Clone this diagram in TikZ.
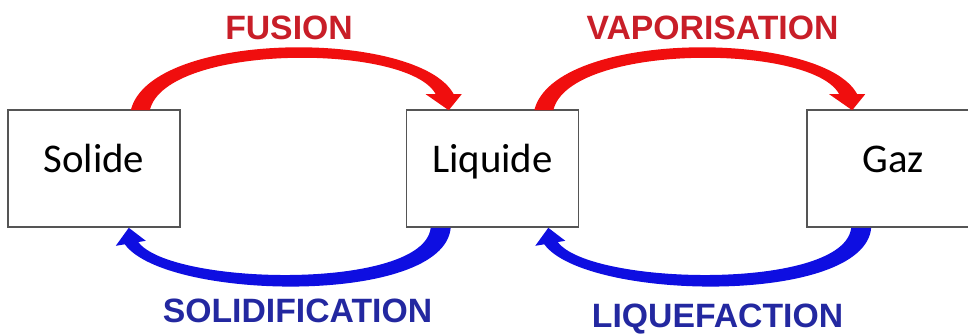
\documentclass[tikz,border=0pt]{standalone}
\usepackage{fontspec}
\setmainfont{Carlito}
\newfontfamily\phasefont{Liberation Sans}
\usetikzlibrary{positioning,calc}
\definecolor{meltred}{RGB}{240,14,14}
\definecolor{meltredtext}{RGB}{200,30,40}
\definecolor{coolblue}{RGB}{14,14,225}
\definecolor{coolbluetext}{RGB}{35,40,160}
\definecolor{boxgrey}{RGB}{85,85,85}
\tikzset{
  phase/.style={draw=boxgrey, line width=1.1pt, fill=white,
                minimum width=4.3cm, minimum height=2.925cm, inner sep=0pt,
                font=\fontsize{29}{34}\selectfont, text height=20pt, text depth=14pt},
  change/.style={font=\phasefont\bfseries\fontsize{24}{28}\selectfont,
                 inner sep=0pt, text height=17.4pt, text depth=0pt},
}
% tapered curved arrow over the boxes: #1 start, #2 tip, #3 colour
\newcommand{\hotarc}[3]{%
  \fill[#3] ($(#1)+(-10,1)$) .. controls ($(#1)+(10,-80)$) and ($(#2)+(-30,-80)$) .. ($(#2)+(5,-15)$)
    -- ($(#2)+(13,-15)$) -- ($(#2)+(0,1)$) -- ($(#2)+(-23,-15)$) -- ($(#2)+(-13,-15)$)
    .. controls ($(#2)+(-40,-66)$) and ($(#1)+(25,-66)$) .. ($(#1)+(9,1)$) -- cycle;
}
% tapered curved arrow under the boxes: #1 start, #2 tip, #3 colour
\newcommand{\coldarc}[3]{%
  \fill[#3] ($(#1)+(10,0)$) .. controls ($(#1)+(3,78)$) and ($(#2)+(37,73)$) .. ($(#2)+(-4,16.5)$)
    -- ($(#2)+(-13,18)$) -- (#2) -- ($(#2)+(17,13)$) -- ($(#2)+(9.5,14.25)$)
    .. controls ($(#2)+(42,58)$) and ($(#1)+(-17,63)$) .. ($(#1)+(-10,0)$) -- cycle;
}

\begin{document}
\begin{tikzpicture}[x=0.025cm, y=-0.025cm]
\useasboundingbox (0,0) rectangle (968,335);

% -----------------------------------------
% states
% -----------------------------------------
\node[phase] (sol) at (94,168.5) {Solide};
\node[phase] (liq) at (492.5,168.5) {Liquide};
\node[phase] (gaz) at (893,168.5) {Gaz};

% -----------------------------------------
% heating (red, over the boxes)
% -----------------------------------------
\coordinate (fus-s) at ($(sol.north east)+(-40,0)$);
\coordinate (fus-t) at ($(liq.north west)+(43,0)$);
\hotarc{fus-s}{fus-t}{meltred}
\node[change, text=meltredtext] (fus) at (289,27) {FUSION};

\coordinate (vap-s) at ($(liq.north east)+(-35,0)$);
\coordinate (vap-t) at ($(gaz.north west)+(46,0)$);
\hotarc{vap-s}{vap-t}{meltred}
\node[change, text=meltredtext] (vap) at (712.5,27) {VAPORISATION};

% -----------------------------------------
% cooling (blue, under the boxes)
% -----------------------------------------
\coordinate (sld-s) at ($(liq.south west)+(35,0)$);
\coordinate (sld-t) at ($(sol.south east)+(-52,0)$);
\coldarc{sld-s}{sld-t}{coolblue}
\node[change, text=coolbluetext] (sld) at (297.5,310) {SOLIDIFICATION};

\coordinate (liqf-s) at ($(gaz.south west)+(55,0)$);
\coordinate (liqf-t) at ($(liq.south east)+(-31,0)$);
\coldarc{liqf-s}{liqf-t}{coolblue}
\node[change, text=coolbluetext] (liqf) at (717.5,315) {LIQUEFACTION};
\end{tikzpicture}
\end{document}
